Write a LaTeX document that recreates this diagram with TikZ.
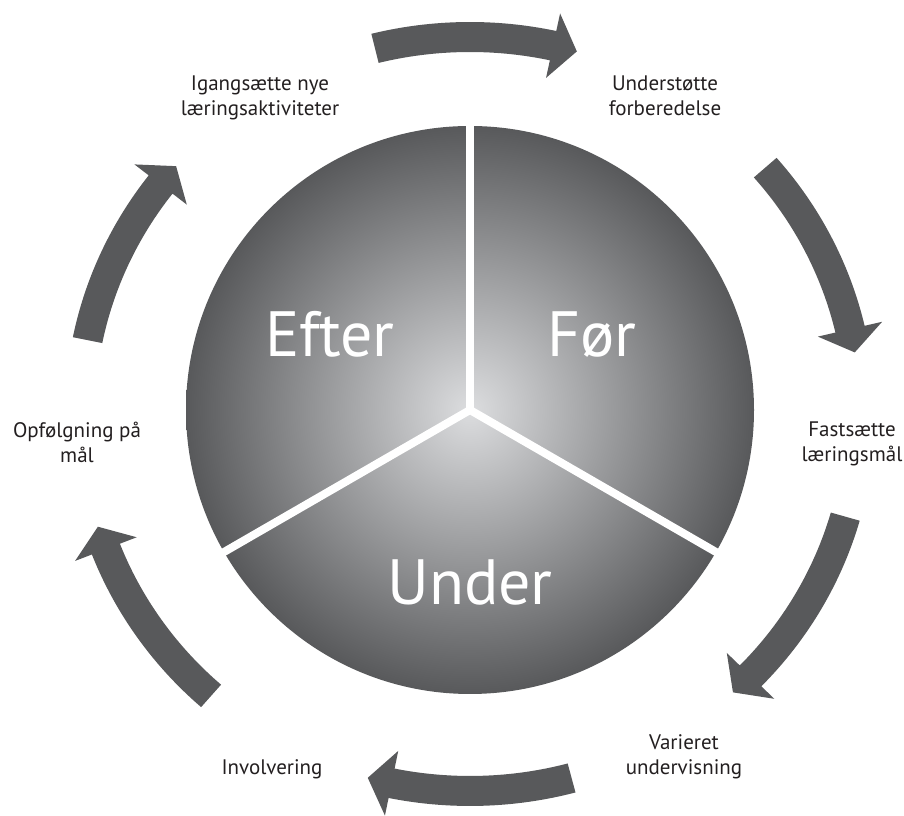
\documentclass[tikz,border=0pt]{standalone}
\usepackage{fontspec}
\setmainfont{PT Sans}
\definecolor{gradin}{HTML}{DCDDDF}
\definecolor{gradout}{HTML}{58595B}
\definecolor{arrowgray}{HTML}{58595B}
\definecolor{labeltext}{HTML}{231F20}
\pgfdeclareradialshading{circgrad}{\pgfpoint{0bp}{0bp}}{color(0bp)=(gradin); color(25bp)=(gradout); color(50bp)=(gradout)}
% curved cycle arrow: #1 tail angle, #2 tip angle (clockwise)
\newcommand\cycarrow[2]{%
  \pgfmathsetmacro\hb{#2+3.6}%
  \begin{scope}[shift={(A)}]
    \fill[arrowfill] (#1:405 and 392) arc[start angle=#1, end angle=\hb, x radius=405, y radius=392]
      -- (\hb:423 and 410) -- (#2:390 and 377) -- (\hb:357 and 344)
      -- (\hb:375 and 362) arc[start angle=\hb, end angle=#1, x radius=375, y radius=362] -- cycle;
  \end{scope}%
}
\begin{document}
\begin{tikzpicture}[x=0.75pt,y=0.75pt,
  cyclabel/.style={font=\fontsize{15.75}{18.75}\selectfont, text=labeltext, align=center, inner sep=0pt},
  phase/.style={font=\fontsize{48}{56}\selectfont, text=white, inner sep=0pt, anchor=base},
  arrowfill/.style={fill=arrowgray},
  divider/.style={draw=white, line width=6pt}]
\path[use as bounding box] (0,0) rectangle (904,816);
\coordinate (C) at (470,406);
\coordinate (A) at (470,402);
% central disc
\shade[shading=circgrad] (C) circle (284);
\draw[divider] (C) -- ++(90:292);
\draw[divider] (C) -- ++(-30:292);
\draw[divider] (C) -- ++(210:292);
\node[phase] (efter) at (330,459) {Efter};
\node[phase] (foer) at (592,459) {Før};
\node[phase] (under) at (470,211) {Under};
% cycle arrows
\cycarrow{104.1}{74.1}
\cycarrow{40.8}{9.4}
\cycarrow{-15.8}{-47.6}
\cycarrow{-74.9}{-105.2}
\cycarrow{-131.6}{-162.6}
\cycarrow{168.7}{138.9}
% labels
\node[cyclabel] (l1) at (260,718) {Igangsætte nye\\læringsaktiviteter};
\node[cyclabel] (l2) at (665,720) {Understøtte\\forberedelse};
\node[cyclabel] (l3) at (852,372) {Fastsætte\\læringsmål};
\node[cyclabel] (l4) at (684,59) {Varieret\\undervisning};
\node[cyclabel] (l5) at (272,47) {Involvering};
\node[cyclabel] (l6) at (77,374) {Opfølgning på\\mål};
\end{tikzpicture}
\end{document}
